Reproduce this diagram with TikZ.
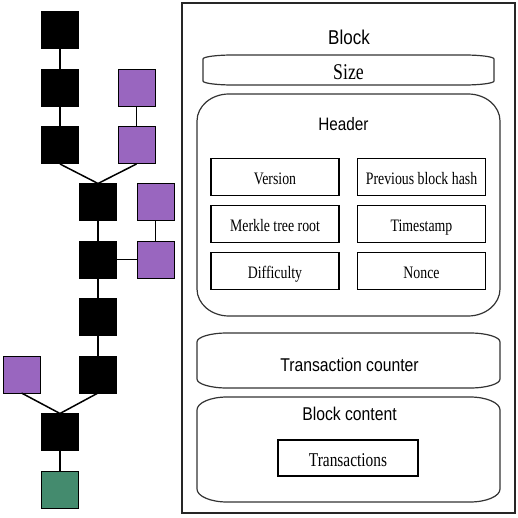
\documentclass[tikz,border=0pt]{standalone}
\usepackage{fontspec}
\usepackage{xcolor}
\usetikzlibrary{calc}
\newfontfamily\sansnarrow[FakeStretch=0.85]{Liberation Sans}
\newfontfamily\serifnarrow[FakeStretch=0.79]{Liberation Serif}
\definecolor{forkpurple}{RGB}{153,102,191}
\definecolor{genesisgreen}{RGB}{68,139,110}

% frame with flat (elliptic) corners round an empty node
\newcommand{\ovalframe}[3]{%
  \draw[frame] ([xshift=#2]#1.north west) -- ([xshift=-#2]#1.north east)
    arc[start angle=90,end angle=0,x radius=#2,y radius=#3]
    -- ([yshift=#3]#1.south east)
    arc[start angle=0,end angle=-90,x radius=#2,y radius=#3]
    -- ([xshift=#2]#1.south west)
    arc[start angle=270,end angle=180,x radius=#2,y radius=#3]
    -- ([yshift=-#3]#1.north west)
    arc[start angle=180,end angle=90,x radius=#2,y radius=#3] -- cycle;}

\begin{document}
\begin{tikzpicture}[x=1pt,y=1pt,
    chain/.style={draw=black,fill=black,line width=1pt,minimum size=37pt,inner sep=0pt,outer sep=0pt},
    orphan/.style={chain,fill=forkpurple},
    genesis/.style={chain,fill=genesisgreen},
    link/.style={line width=1.5pt},
    area/.style={inner sep=0pt,outer sep=0pt},
    frame/.style={draw=black!80,line width=1.2pt},
    field/.style={draw,line width=1.8pt,minimum width=128pt,minimum height=37pt,inner sep=0pt,
      text height=15pt,text depth=0pt,font=\serifnarrow\fontsize{17.5}{20}\selectfont},
    title/.style={font=\sansnarrow\fontsize{18.5}{22}\selectfont}]
  \useasboundingbox (0,0) rectangle (518,-518);

  % Place the main chain
  \node [chain] (M1) at (60,-30.5) {};
  \node [chain] (M2) at (60,-88) {};
  \node [chain] (M3) at (60,-145.5) {};
  \node [chain] (M4) at (98,-202) {};
  \node [chain] (M5) at (98,-259.5) {};
  \node [chain] (M6) at (98,-317) {};
  \node [chain] (M7) at (98,-374.5) {};
  \node [chain] (M8) at (60,-432) {};
  \node [genesis] (G0) at (60,-489.5) {};

  % Place the orphan blocks
  \node [orphan] (O1) at (136.5,-88) {};
  \node [orphan] (O2) at (136.5,-145.5) {};
  \node [orphan] (O3) at (155.5,-202) {};
  \node [orphan] (O4) at (155.5,-259.5) {};
  \node [orphan] (O5) at (21.5,-374.5) {};

  % Connect blocks
  \draw [link] (M1) -- (M2);
  \draw [link] (M2) -- (M3);
  \draw [link] (M3.south) -- (M4.north);
  \draw [link] (O1) -- (O2);
  \draw [link] (O2.south) -- (M4.north);
  \draw [link] (M4) -- (M5);
  \draw [link] (O3) -- (O4);
  \draw [link] (M5) -- (O4);
  \draw [link] (M5) -- (M6);
  \draw [link] (M6) -- (M7);
  \draw [link] (M7.south) -- (M8.north);
  \draw [link] (O5.south) -- (M8.north);
  \draw [link] (M8) -- (G0);

  % Block layout
  \node (BLK) at (348.5,-258) [draw=black!85,line width=1.3pt,minimum width=333pt,minimum height=510pt,area] {};
  \node (BLKlabel) at (349,-37) [font=\sansnarrow\fontsize{20}{23}\selectfont] {Block};

  \node (SIZE) at (348.5,-70) [area,minimum width=291pt,minimum height=30pt] {};
  \ovalframe{SIZE}{30pt}{4pt}
  \node (SIZElabel) at (348.5,-72) [font=\serifnarrow\fontsize{22.5}{26}\selectfont] {Size};

  \node (HDR) at (348.5,-205) [area,minimum width=303pt,minimum height=222pt] {};
  \ovalframe{HDR}{32pt}{27pt}
  \node (HDRlabel) at (343.5,-124) [title,font=\sansnarrow\fontsize{18}{22}\selectfont] {Header};

  % Header fields
  \node (VER) at (275,-177) [field] {Version};
  \node (PREV) at (421.5,-177) [field] {Previous block hash};
  \node (MRK) at (275,-224) [field] {Merkle tree root};
  \node (TIME) at (421.5,-224) [field] {Timestamp};
  \node (DIFF) at (275,-271) [field] {Difficulty};
  \node (NONCE) at (421.5,-271) [field] {Nonce};

  \node (TXC) at (348.5,-360.5) [area,minimum width=303pt,minimum height=55pt] {};
  \ovalframe{TXC}{30pt}{9pt}
  \node (TXClabel) at (349.5,-365) [title] {Transaction counter};

  \node (CNT) at (348.5,-449.5) [area,minimum width=303pt,minimum height=105pt] {};
  \ovalframe{CNT}{30pt}{13pt}
  \node (CNTlabel) at (349.5,-414) [title] {Block content};
  \node (TXS) at (348,-458) [field,minimum width=140pt,minimum height=36pt,text height=17pt,
    font=\serifnarrow\fontsize{19.5}{22}\selectfont] {Transactions};
\end{tikzpicture}
\end{document}
